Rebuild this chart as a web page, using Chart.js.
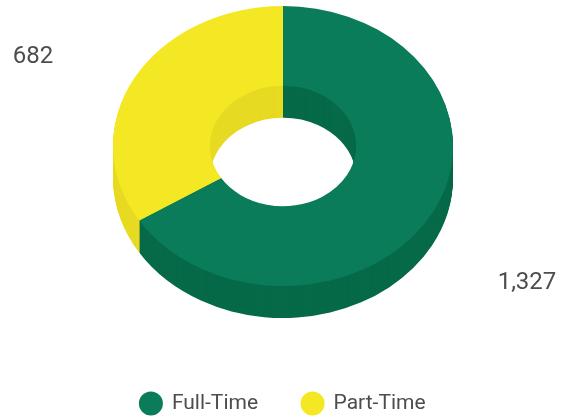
<!DOCTYPE html>
<html>
<head>
<meta charset="utf-8">
<style>
  html, body { margin: 0; padding: 0; background: #fff; }
  canvas { display: block; }
</style>
<script src="https://cdn.jsdelivr.net/npm/chart.js@4"></script>
</head>
<body>
<canvas id="donut" width="572" height="418"></canvas>
<script>
const categories = ["Full-Time", "Part-Time"];
const headcount = [1327, 682];
const topColors = ["#0a7c59", "#f4e724"];
const wallColors = ["#066a49", "#e7da22"];
const valueLabels = ["1,327", "682"];

// Chart.js only does flat doughnuts, so squash it and stack darker copies for the 3D wall
const DEPTH = 32;
const CENTER_Y = 146;
const RADIUS_X = 170;
const RADIUS_Y = 140;

const squash = (ctx, arc) => {
    ctx.translate(arc.x, CENTER_Y);
    ctx.scale(RADIUS_X / arc.outerRadius, RADIUS_Y / arc.outerRadius);
    ctx.translate(-arc.x, -arc.y);
};

const tiltPlugin = {
    id: "tilt",
    beforeDatasetsDraw(chart) {
        const ctx = chart.ctx;
        const arcs = chart.getDatasetMeta(0).data;
        for (let d = DEPTH; d >= 1; d--) {
            arcs.forEach((arc, i) => {
                const original = arc.options;
                arc.options = Object.assign(Object.create(original), { backgroundColor: wallColors[i] });
                ctx.save();
                ctx.translate(0, d);
                squash(ctx, arc);
                arc.draw(ctx);
                ctx.restore();
                arc.options = original;
            });
        }
        ctx.save();
        squash(ctx, arcs[0]);
    },
    afterDatasetsDraw(chart) {
        const ctx = chart.ctx;
        ctx.restore();
        ctx.fillStyle = "#4d4d4d";
        ctx.font = "24px Roboto";
        ctx.textAlign = "center";
        ctx.textBaseline = "middle";
        ctx.fillText(valueLabels[0], 527, 283);
        ctx.fillText(valueLabels[1], 33, 57);
    }
};

new Chart(document.getElementById("donut"), {
    type: "doughnut",
    data: {
        labels: categories,
        datasets: [{
            data: headcount,
            backgroundColor: topColors,
            borderWidth: 0
        }]
    },
    options: {
        responsive: false,
        animation: false,
        cutout: "43%",
        layout: { padding: { left: 0, right: 6, top: 0, bottom: -6 } },
        plugins: {
            tooltip: { enabled: false },
            legend: {
                position: "bottom",
                labels: {
                    usePointStyle: true,
                    pointStyle: "circle",
                    boxWidth: 21,
                    boxHeight: 17,
                    padding: 44,
                    color: "#4d4d4d",
                    font: { family: "Roboto", size: 21 }
                }
            }
        }
    },
    plugins: [tiltPlugin]
});
</script>
</body>
</html>
